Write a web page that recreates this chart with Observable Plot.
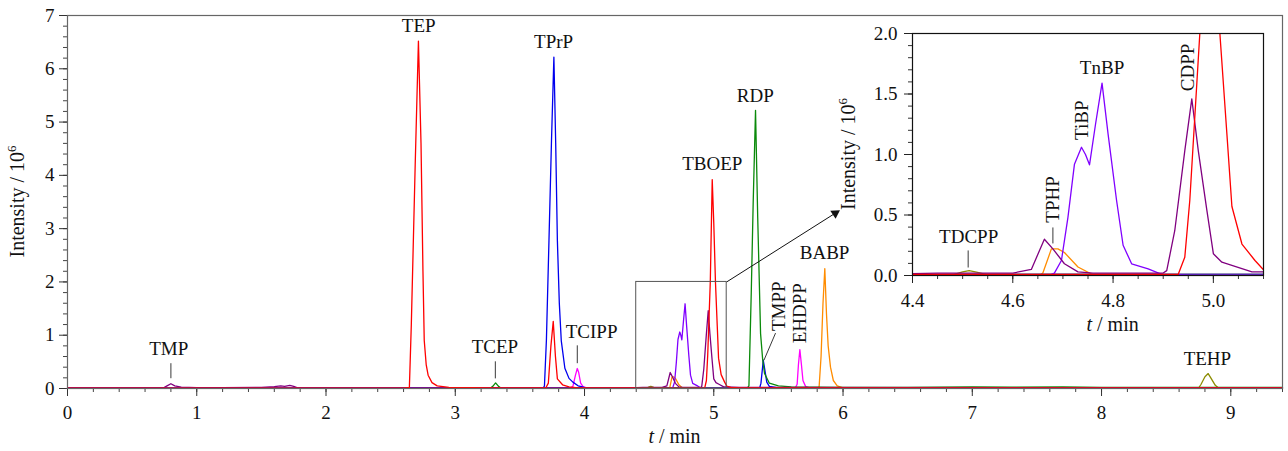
<!DOCTYPE html>
<html>
<head>
<meta charset="utf-8">
<script src="https://cdn.jsdelivr.net/npm/d3@7"></script>
<script src="https://cdn.jsdelivr.net/npm/@observablehq/plot@0.6"></script>
<style>
  html, body { margin: 0; padding: 0; background: white; }
  #wrap { position: relative; width: 1288px; height: 451px; font-family: "Liberation Serif", "DejaVu Serif", serif; }
  #inset { position: absolute; left: 840px; top: 20px; }
</style>
</head>
<body>
<div id="wrap"><div id="main"></div><div id="inset"></div></div>
<script>
// ---- data: [time (min), intensity (10^6)] ----
const red = [[0,0.005],[2.6,0.005],[2.645,0.02],[2.66,1.2],[2.69,4.2],[2.715,6.52],[2.735,4.6],[2.75,2.2],[2.76,0.9],[2.775,0.45],[2.79,0.25],[2.82,0.11],[2.86,0.05],[2.95,0.02],[3.3,0.01],[3.7,0.01],[3.72,0.1],[3.74,0.8],[3.758,1.26],[3.775,0.6],[3.79,0.18],[3.83,0.07],[3.88,0.03],[3.95,0.01],[4.93,0.01],[4.943,0.15],[4.953,0.62],[4.963,1.31],[4.973,2.0],[4.988,3.92],[5.0,3.1],[5.013,2.0],[5.027,1.17],[5.037,0.57],[5.057,0.26],[5.083,0.124],[5.1,0.047],[5.13,0.02],[5.2,0.01],[9.4,0.01]];
const blue = [[0,0.005],[3.68,0.005],[3.69,0.05],[3.705,0.9],[3.725,2.78],[3.745,4.7],[3.763,6.22],[3.777,4.6],[3.79,2.78],[3.805,1.6],[3.82,0.9],[3.848,0.38],[3.88,0.19],[3.91,0.12],[3.95,0.05],[4.0,0.02],[4.1,0.01],[5.355,0.01],[5.365,0.1],[5.383,0.53],[5.395,0.35],[5.41,0.12],[5.43,0.04],[5.5,0.01],[9.4,0.01]];
const green = [[0,0.005],[3.27,0.005],[3.29,0.04],[3.312,0.105],[3.335,0.04],[3.355,0.005],[5.26,0.01],[5.272,0.05],[5.29,1.8],[5.305,3.5],[5.323,5.22],[5.34,3.2],[5.362,1.03],[5.378,0.55],[5.393,0.28],[5.43,0.1],[5.5,0.05],[5.6,0.03],[6.0,0.02],[6.5,0.02],[7.0,0.03],[7.3,0.025],[7.7,0.03],[8.0,0.02],[8.5,0.02],[9.0,0.02],[9.4,0.02]];
const magenta = [[0,0.005],[3.89,0.005],[3.91,0.04],[3.93,0.25],[3.944,0.375],[3.955,0.3],[3.97,0.1],[3.99,0.03],[4.02,0.01],[5.63,0.01],[5.645,0.08],[5.655,0.45],[5.666,0.73],[5.678,0.45],[5.69,0.15],[5.71,0.04],[5.74,0.01],[9.4,0.01]];
const violet = [[0,0.005],[4.675,0.005],[4.683,0.02],[4.697,0.124],[4.71,0.48],[4.723,0.92],[4.737,1.06],[4.745,1.0],[4.753,0.915],[4.765,1.25],[4.778,1.59],[4.79,1.17],[4.807,0.62],[4.82,0.25],[4.837,0.097],[4.87,0.055],[4.897,0.01],[4.95,0.005],[9.4,0.005]];
const purple = [[0,0.01],[0.74,0.01],[0.77,0.05],[0.8,0.09],[0.83,0.05],[0.88,0.025],[1.0,0.015],[1.2,0.015],[1.5,0.02],[1.6,0.035],[1.65,0.05],[1.68,0.04],[1.72,0.06],[1.75,0.04],[1.78,0.01],[2.5,0.01],[4.4,0.015],[4.45,0.02],[4.6,0.02],[4.637,0.05],[4.663,0.30],[4.68,0.22],[4.703,0.097],[4.73,0.03],[4.76,0.02],[4.9,0.02],[4.907,0.04],[4.923,0.37],[4.943,1.03],[4.957,1.46],[4.97,1.03],[4.987,0.54],[5.0,0.18],[5.017,0.11],[5.04,0.08],[5.077,0.03],[5.1,0.03],[5.2,0.02],[9.4,0.015]];
const orange = [[0,0.005],[4.655,0.005],[4.66,0.02],[4.677,0.22],[4.69,0.22],[4.703,0.19],[4.73,0.07],[4.76,0.005],[5.8,0.005],[5.815,0.03],[5.83,0.6],[5.845,1.6],[5.859,2.25],[5.872,1.4],[5.885,0.8],[5.903,0.4],[5.925,0.15],[5.955,0.05],[6.0,0.01],[9.4,0.01]];
const olive = [[0,0.005],[4.48,0.005],[4.5,0.03],[4.513,0.04],[4.53,0.025],[4.55,0.005],[8.75,0.005],[8.77,0.08],[8.8,0.22],[8.825,0.28],[8.85,0.18],[8.88,0.06],[8.905,0.01],[9.4,0.005]];

const seriesList = [
  {data: olive, color: "#8c8c00"},
  {data: orange, color: "#ff8c00"},
  {data: magenta, color: "#ff00ff"},
  {data: blue, color: "#0000ee"},
  {data: green, color: "#0a8a0a"},
  {data: violet, color: "#8000ff"},
  {data: purple, color: "#800080"},
  {data: red, color: "#ff0000"}
];

// labels [name, t, intensity]
const mainLabels = [["TMP",0.783,0.747],["TEP",2.717,6.80],["TPrP",3.761,6.50],["TCEP",3.307,0.775],["TCIPP",4.055,1.066],["TBOEP",4.988,4.21],["RDP",5.321,5.50],["BABP",5.857,2.54],["TEHP",8.819,0.55]];
const mainRotLabels = [["TMPP",5.507,1.544],["EHDPP",5.664,1.413]];
const mainLeaders = [[0.80,0.475,0.80,0.193],[3.31,0.51,3.31,0.19],[3.944,0.81,3.944,0.475],[5.478,1.04,5.388,0.53]];
const insetLabels = [["TDCPP",4.512,0.323],["TnBP",4.778,1.717]];
const insetRotLabels = [["TPHP",4.681,0.629],["TiBP",4.737,1.283],["CDPP",4.95,1.72]];
const insetLeaders = [[4.511,0.207,4.511,0.066],[4.68,0.397,4.68,0.265]];
const zoomBox = [[4.4,5.1,0,2.0]];
const zoomArrow = [[5.1,2.0,5.94,3.29]];

const mainXTicks = d3.range(0, 10, 1);
const mainXMinor = d3.range(0, 9.401, 0.2);
const mainYTicks = d3.range(0, 8, 1);
const mainYMinor = d3.range(0, 7.001, 0.2);
const insetXTicks = [4.4, 4.6, 4.8, 5.0];
const insetXMinor = d3.range(4.4, 5.1001, 0.05);
const insetYTicks = [0, 0.5, 1.0, 1.5, 2.0];
const insetYMinor = d3.range(0, 2.001, 0.1);

const FS = 19;
const lineMarks = (clip) => seriesList.map(s => Plot.line(s.data, {x: d => d[0], y: d => d[1], stroke: s.color, strokeWidth: 1.3, clip}));

const main = Plot.plot({
  width: 1288, height: 451,
  marginLeft: 67, marginTop: 15, marginRight: 6, marginBottom: 63,
  style: {fontFamily: "Liberation Serif", fontSize: FS + "px", background: "white", color: "#111"},
  x: {domain: [0, 9.4]},
  y: {domain: [0, 7]},
  marks: [
    Plot.axisX({ticks: mainXMinor, tickSize: 4, tickFormat: () => "", label: null, stroke: "#444"}),
    Plot.axisX({ticks: mainXTicks, tickSize: 8, tickPadding: 9, tickFormat: d3.format("d"), label: null, fontSize: FS, stroke: "#333"}),
    Plot.axisY({ticks: mainYMinor, tickSize: 4, tickFormat: () => "", label: null, stroke: "#444"}),
    Plot.axisY({ticks: mainYTicks, tickSize: 8, tickPadding: 5, tickFormat: d3.format("d"), label: null, fontSize: FS, stroke: "#333"}),
    ...lineMarks(false),
    Plot.rect(zoomBox, {x1: d => d[0], x2: d => d[1], y1: d => d[2], y2: d => d[3], fill: "none", stroke: "#555", strokeWidth: 1}),
    Plot.link(zoomArrow, {x1: d => d[0], y1: d => d[1], x2: d => d[2], y2: d => d[3], stroke: "#111", strokeWidth: 1}),
    Plot.dot(zoomArrow, {x: d => d[2], y: d => d[3], symbol: "triangle", r: 3.6, fill: "#111", stroke: "none", rotate: 57}),
    Plot.link(mainLeaders, {x1: d => d[0], y1: d => d[1], x2: d => d[2], y2: d => d[3], stroke: "#222", strokeWidth: 0.9}),
    Plot.text(mainLabels, {x: d => d[1], y: d => d[2], text: d => d[0], fontSize: FS, fill: "#111"}),
    Plot.text(mainRotLabels, {x: d => d[1], y: d => d[2], text: d => d[0], fontSize: FS, fill: "#111", rotate: -90}),
    Plot.frame({stroke: "#666", strokeWidth: 1.2})
  ]
});
document.getElementById("main").appendChild(main);

const inset = Plot.plot({
  width: 440, height: 330,
  marginLeft: 72, marginTop: 13, marginRight: 17, marginBottom: 75,
  style: {fontFamily: "Liberation Serif", fontSize: FS + "px", background: "transparent", color: "#111", overflow: "visible"},
  x: {domain: [4.4, 5.1]},
  y: {domain: [0, 2]},
  marks: [
    Plot.frame({fill: "white", stroke: "none"}),
    Plot.axisX({ticks: insetXMinor, tickSize: 4, tickFormat: () => "", label: null, stroke: "#333"}),
    Plot.axisX({ticks: insetXTicks, tickSize: 8, tickPadding: 10, tickFormat: d3.format(".1f"), label: null, fontSize: FS, stroke: "#222"}),
    Plot.axisY({ticks: insetYMinor, tickSize: 4, tickFormat: () => "", label: null, stroke: "#333"}),
    Plot.axisY({ticks: insetYTicks, tickSize: 8, tickPadding: 7, tickFormat: d3.format(".1f"), label: null, fontSize: FS, stroke: "#222"}),
    ...lineMarks(true),
    Plot.link(insetLeaders, {x1: d => d[0], y1: d => d[1], x2: d => d[2], y2: d => d[3], stroke: "#222", strokeWidth: 0.9}),
    Plot.text(insetLabels, {x: d => d[1], y: d => d[2], text: d => d[0], fontSize: FS, fill: "#111"}),
    Plot.text(insetRotLabels, {x: d => d[1], y: d => d[2], text: d => d[0], fontSize: FS, fill: "#111", rotate: -90}),
    Plot.frame({stroke: "#111", strokeWidth: 1.2})
  ]
});
document.getElementById("inset").appendChild(inset);

// axis titles with superscript and italic
function yTitle(svg, x, y) {
  const t = d3.select(svg).append("text")
    .attr("transform", `translate(${x},${y}) rotate(-90)`)
    .attr("text-anchor", "middle")
    .attr("font-family", "Liberation Serif").attr("font-size", 20).attr("fill", "#111");
  t.append("tspan").text("Intensity / 10");
  t.append("tspan").attr("dy", -8).attr("font-size", 13).text("6");
}
function xTitle(svg, x, y) {
  const t = d3.select(svg).append("text")
    .attr("x", x).attr("y", y)
    .attr("text-anchor", "middle")
    .attr("font-family", "Liberation Serif").attr("font-size", 20).attr("fill", "#111");
  t.append("tspan").attr("font-style", "italic").text("t");
  t.append("tspan").text(" / min");
}
const mx = main.scale("x"), my = main.scale("y");
yTitle(main, 23.5, (my.range[0] + my.range[1]) / 2);
xTitle(main, (mx.range[0] + mx.range[1]) / 2, 443);
const ix = inset.scale("x"), iy = inset.scale("y");
yTitle(inset, 15, (iy.range[0] + iy.range[1]) / 2);
xTitle(inset, ix.apply(4.8), 311);
</script>
</body>
</html>
